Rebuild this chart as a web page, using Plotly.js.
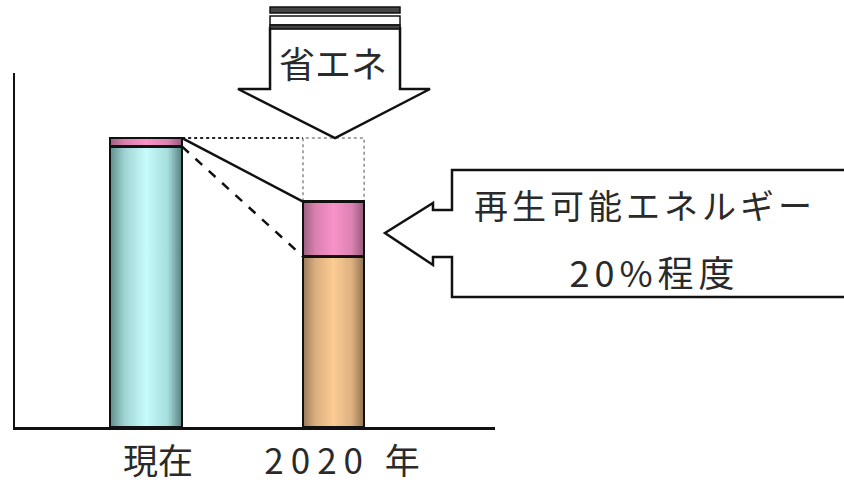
<!DOCTYPE html>
<html>
<head>
<meta charset="utf-8">
<script src="https://cdn.plot.ly/plotly-3.0.1.min.js"></script>
<style>
  html, body { margin: 0; padding: 0; background: #fff; }
  #chart { width: 844px; height: 482px; }
  .annotation[data-index="1"] .annotation-text { letter-spacing: 4px; }
  .annotation[data-index="2"] .annotation-text { letter-spacing: 5px; }
  .xtick:nth-of-type(2) text { letter-spacing: 7px; }
</style>
</head>
<body>
<div id="chart"></div>
<script>
// ---- data ----
const categories = ["現在", "2020 年"];
const conventional = [97, 59];   // non-renewable energy (relative)
const renewable = [3, 19];       // renewable energy (relative)
const yMax = 122.5;
const arrowLabel = "省エネ";
const calloutLine1 = "再生可能エネルギー";
const calloutLine2 = "20%程度";

// ---- styles ----
const barWidths = [0.385, 0.326];
const FONT = '"Noto Sans CJK JP", "Noto Sans", sans-serif';
const TXT = '#2a2a2a';

// plot area in pixels
const L = 15, R = 495, T = 73, B = 427;
const px = X => (X - L) / (R - L);
const py = Y => (B - Y) / (B - T);
function pathFromPx(pts, close) {
  return pts.map((p, i) => (i ? 'L' : 'M') + px(p[0]).toFixed(4) + ',' + py(p[1]).toFixed(4)).join(' ') + (close ? ' Z' : '');
}

const totals = conventional.map((v, i) => v + renewable[i]);
const xR0 = 0 + barWidths[0] / 2;
const xL1 = 1 - barWidths[1] / 2;
const xR1 = 1 + barWidths[1] / 2;

const data = [
  { type: 'bar', x: categories, y: conventional, width: barWidths,
    marker: { color: ['#9fd6d6', '#e2b07e'], line: { color: '#111', width: 2.5 } },
    hoverinfo: 'skip' },
  { type: 'bar', x: categories, y: renewable, width: barWidths,
    marker: { color: ['#e48ab8', '#e48ab8'], line: { color: '#111', width: 2.5 } },
    hoverinfo: 'skip' }
];

const shapes = [
  { type: 'rect', xref: 'x', yref: 'y', x0: xL1, x1: xR1, y0: totals[1], y1: totals[0],
    line: { color: '#8a8a8a', width: 1.5, dash: 'dot' }, layer: 'below' },
  { type: 'line', xref: 'x', yref: 'y', x0: xR0, x1: xL1, y0: totals[0], y1: totals[0],
    line: { color: '#222', width: 2, dash: 'dot' } },
  { type: 'line', xref: 'x', yref: 'y', x0: xR0, x1: xL1, y0: totals[0], y1: totals[1],
    line: { color: '#111', width: 2.5 } },
  { type: 'line', xref: 'x', yref: 'y', x0: xR0, x1: xL1, y0: conventional[0], y1: conventional[1],
    line: { color: '#111', width: 2.5, dash: 'dash' } },
  { type: 'path', xref: 'paper', yref: 'paper',
    path: pathFromPx([[270, 28], [270, 89], [238, 89], [335, 138], [430, 89], [400, 89], [400, 28]], true),
    line: { color: '#111', width: 2.5 }, fillcolor: '#fff' },
  { type: 'path', xref: 'paper', yref: 'paper',
    path: pathFromPx([[270, 7], [400, 7], [400, 13], [270, 13]], true),
    line: { color: '#111', width: 1.5 }, fillcolor: '#444' },
  { type: 'path', xref: 'paper', yref: 'paper',
    path: pathFromPx([[270, 16], [400, 16], [400, 25], [270, 25]], true),
    line: { color: '#111', width: 1.5 }, fillcolor: '#fff' },
  { type: 'path', xref: 'paper', yref: 'paper',
    path: pathFromPx([[270, 25], [400, 25], [400, 29], [270, 29]], true),
    line: { color: '#111', width: 1.5 }, fillcolor: '#444' },
  { type: 'path', xref: 'paper', yref: 'paper',
    path: pathFromPx([[852, 170], [452, 170], [452, 210], [433, 210], [433, 203], [385, 233],
                      [433, 265], [433, 257], [452, 257], [452, 297], [852, 297]], false),
    line: { color: '#111', width: 2.5 }, fillcolor: '#fff' }
];

const annotations = [
  { xref: 'paper', yref: 'paper', x: px(333), y: py(62), text: arrowLabel, showarrow: false,
    xanchor: 'center', yanchor: 'middle', font: { family: FONT, size: 36, color: TXT } },
  { xref: 'paper', yref: 'paper', x: px(645), y: py(204), text: calloutLine1, showarrow: false,
    xanchor: 'center', yanchor: 'middle', font: { family: FONT, size: 34, color: TXT } },
  { xref: 'paper', yref: 'paper', x: px(654), y: py(271), text: calloutLine2, showarrow: false,
    xanchor: 'center', yanchor: 'middle', font: { family: FONT, size: 36, color: TXT } }
];

const layout = {
  width: 844, height: 482,
  margin: { l: L, r: 844 - R, t: T, b: 482 - B, pad: 0 },
  paper_bgcolor: '#fff', plot_bgcolor: '#fff',
  showlegend: false,
  barmode: 'stack',
  font: { family: FONT, color: TXT },
  xaxis: {
    type: 'category', range: [-0.699, 1.861],
    showline: true, linecolor: '#111', linewidth: 2.5,
    showgrid: false, zeroline: false, ticks: '',
    tickfont: { family: FONT, size: 35, color: TXT },
    ticklabelstandoff: 2, ticklabelshift: 12
  },
  yaxis: {
    range: [0, yMax],
    showline: true, linecolor: '#111', linewidth: 2.5,
    showgrid: false, zeroline: false, ticks: '', showticklabels: false
  },
  shapes: shapes,
  annotations: annotations
};

const gradSpecs = {
  gTeal:   ['#5f8e8b', '#9fd3d2', '#c8fbfb', '#a6dcdc', '#557f7d'],
  gOrange: ['#9a7a5a', '#d9ae7f', '#fccb92', '#dcb080', '#8f7152'],
  gPink:   ['#9c5f80', '#d97fb0', '#f892c9', '#dc82b3', '#935a79']
};
const gradByTrace = [['gTeal', 'gOrange'], ['gPink', 'gPink']];

const gd = document.getElementById('chart');
Plotly.newPlot(gd, data, layout, { staticPlot: true, displayModeBar: false }).then(() => {
  const svg = gd.querySelector('svg.main-svg');
  const NS = 'http://www.w3.org/2000/svg';
  let defs = svg.querySelector('defs');
  if (!defs) { defs = document.createElementNS(NS, 'defs'); svg.insertBefore(defs, svg.firstChild); }
  const offs = [0, 0.2, 0.5, 0.8, 1];
  Object.keys(gradSpecs).forEach(id => {
    const g = document.createElementNS(NS, 'linearGradient');
    g.setAttribute('id', id);
    g.setAttribute('x1', '0'); g.setAttribute('x2', '1'); g.setAttribute('y1', '0'); g.setAttribute('y2', '0');
    gradSpecs[id].forEach((c, i) => {
      const s = document.createElementNS(NS, 'stop');
      s.setAttribute('offset', offs[i]);
      s.setAttribute('stop-color', c);
      g.appendChild(s);
    });
    defs.appendChild(g);
  });
  gd.querySelectorAll('.barlayer .trace').forEach((tr, ti) => {
    tr.querySelectorAll('.point path').forEach((p, pi) => {
      p.style.fill = 'url(#' + gradByTrace[ti][pi] + ')';
    });
  });
});
</script>
</body>
</html>
